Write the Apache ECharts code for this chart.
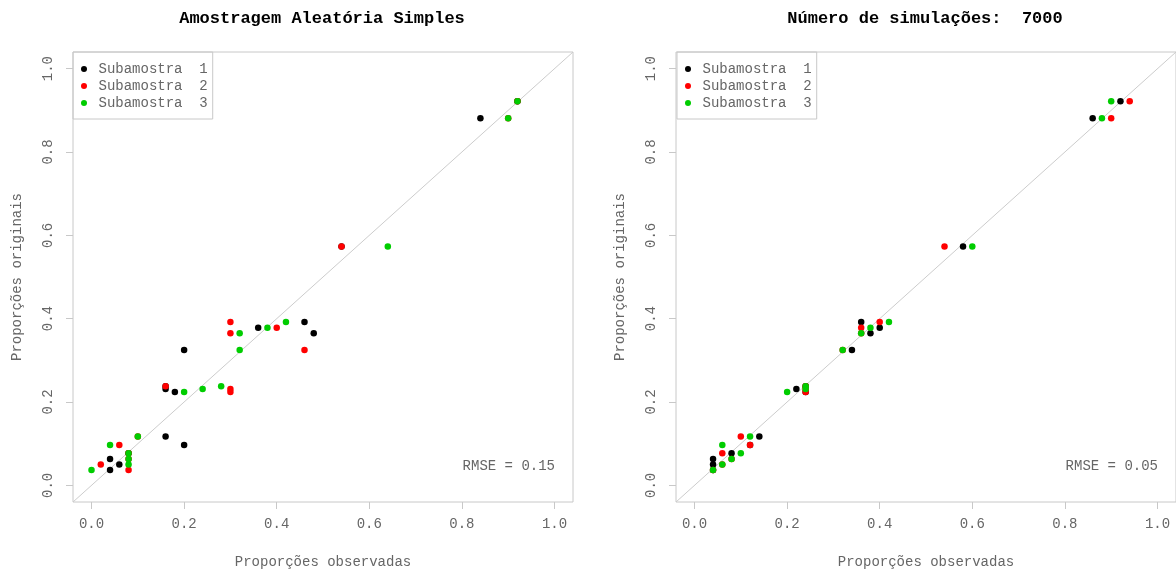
<!DOCTYPE html>
<html><head><meta charset="utf-8">
<script src="https://cdn.jsdelivr.net/npm/echarts@6/dist/echarts.min.js"></script>
<style>html,body{margin:0;padding:0;background:#fff}#c{width:1176px;height:572px}</style>
</head><body><div id="c"></div>
<script>
// ---- data ----
const seriesNames = ['Subamostra  1', 'Subamostra  2', 'Subamostra  3'];
const seriesColors = ['#000000', '#ff0000', '#00cd00'];
// original proportions (y) per category
const origProps = [0.922, 0.881, 0.573, 0.392, 0.378, 0.365, 0.325, 0.238, 0.231, 0.224, 0.117, 0.097, 0.077, 0.063, 0.050, 0.037];
// left panel: Amostragem Aleatória Simples, observed proportions (x)
const aasSub1 = [0.92, 0.84, 0.54, 0.46, 0.36, 0.48, 0.20, 0.16, 0.16, 0.18, 0.16, 0.20, 0.08, 0.04, 0.06, 0.04];
const aasSub2 = [0.92, 0.90, 0.54, 0.30, 0.40, 0.30, 0.46, 0.16, 0.30, 0.30, 0.10, 0.06, 0.08, 0.08, 0.02, 0.08];
const aasSub3 = [0.92, 0.90, 0.64, 0.42, 0.38, 0.32, 0.32, 0.28, 0.24, 0.20, 0.10, 0.04, 0.08, 0.08, 0.08, 0.00];
// right panel: 7000 simulations, observed proportions (x)
const simSub1 = [0.92, 0.86, 0.58, 0.36, 0.40, 0.38, 0.34, 0.24, 0.22, 0.24, 0.14, 0.12, 0.08, 0.04, 0.04, 0.04];
const simSub2 = [0.94, 0.90, 0.54, 0.40, 0.36, 0.36, 0.32, 0.24, 0.24, 0.24, 0.10, 0.12, 0.06, 0.08, 0.06, 0.04];
const simSub3 = [0.90, 0.88, 0.60, 0.42, 0.38, 0.36, 0.32, 0.24, 0.24, 0.20, 0.12, 0.06, 0.10, 0.08, 0.06, 0.04];
const tickValues = [0, 0.2, 0.4, 0.6, 0.8, 1.0];
const axisRange = [-0.04, 1.04];
const titles = ['Amostragem Aleatória Simples', 'Número de simulações:  7000'];
const rmseLabels = ['RMSE = 0.15', 'RMSE = 0.05'];
const xAxisTitle = 'Proporções observadas';
const yAxisTitle = 'Proporções originais';

// ---- chart ----
const FONT = '"Liberation Mono", "Courier New", monospace';
const GRAY = '#666666';
const BOX = '#c8c8c8';
const panels = [[aasSub1, aasSub2, aasSub3], [simSub1, simSub2, simSub3]];
const grids = [
  { left: 73, top: 52, width: 500, height: 450 },
  { left: 676, top: 52, width: 500, height: 450 }
];

function mkAxis(i, isX) {
  return {
    type: 'value', gridIndex: i, min: axisRange[0], max: axisRange[1],
    name: isX ? xAxisTitle : yAxisTitle,
    nameLocation: 'middle', nameGap: isX ? 53 : 49, nameRotate: isX ? 0 : 90,
    nameTextStyle: { fontFamily: FONT, fontSize: 14, color: GRAY },
    axisLine: { show: false, onZero: false },
    splitLine: { show: false },
    axisTick: { show: true, length: 7, customValues: tickValues, lineStyle: { color: BOX, width: 1 } },
    axisLabel: { customValues: tickValues, margin: isX ? 15 : 18, rotate: isX ? 0 : 90,
      fontFamily: FONT, fontSize: 14, color: GRAY, formatter: v => v.toFixed(1) }
  };
}

const series = [];
panels.forEach((subs, p) => {
  series.push({
    type: 'line', xAxisIndex: p, yAxisIndex: p, silent: true, symbol: 'none',
    data: [[axisRange[0], axisRange[0]], [axisRange[1], axisRange[1]]],
    lineStyle: { color: '#cccccc', width: 1 }, z: 1
  });
  subs.forEach((xs, s) => {
    series.push({
      type: 'scatter', name: seriesNames[s], xAxisIndex: p, yAxisIndex: p,
      symbolSize: 6.5, itemStyle: { color: seriesColors[s], opacity: 1 }, z: 2,
      data: xs.map((x, k) => [x, origProps[k]])
    });
  });
});

function mkLegend(left) {
  return {
    data: seriesNames, orient: 'vertical', left: left, top: 52,
    padding: [10, 5, 9, 8], itemWidth: 7, itemHeight: 6, itemGap: 3,
    icon: 'circle', borderColor: BOX, borderWidth: 1, borderRadius: 0,
    selectedMode: false,
    itemStyle: { opacity: 1 },
    textStyle: { fontFamily: FONT, fontSize: 14, color: GRAY, padding: [0, 0, 0, 6] }
  };
}

const graphic = [];
titles.forEach((t, i) => {
  graphic.push({ type: 'text', x: grids[i].left + grids[i].width / 2 - 1, y: 19,
    style: { text: t, font: 'bold 17px ' + FONT, fill: '#000', align: 'center', verticalAlign: 'middle' } });
});
rmseLabels.forEach((t, i) => {
  graphic.push({ type: 'text', x: grids[i].left + 482, y: 466,
    style: { text: t, font: '14px ' + FONT, fill: GRAY, align: 'right', verticalAlign: 'middle' } });
});

const chart = echarts.init(document.getElementById('c'), null, { renderer: 'canvas' });
chart.setOption({
  animation: false,
  backgroundColor: '#ffffff',
  grid: grids.map(g => Object.assign({ show: true, borderColor: BOX, borderWidth: 1,
    backgroundColor: 'transparent', containLabel: false, outerBoundsMode: 'none' }, g)),
  xAxis: [mkAxis(0, true), mkAxis(1, true)],
  yAxis: [mkAxis(0, false), mkAxis(1, false)],
  legend: [mkLegend(73), mkLegend(677)],
  series: series,
  graphic: graphic
});
</script></body></html>
